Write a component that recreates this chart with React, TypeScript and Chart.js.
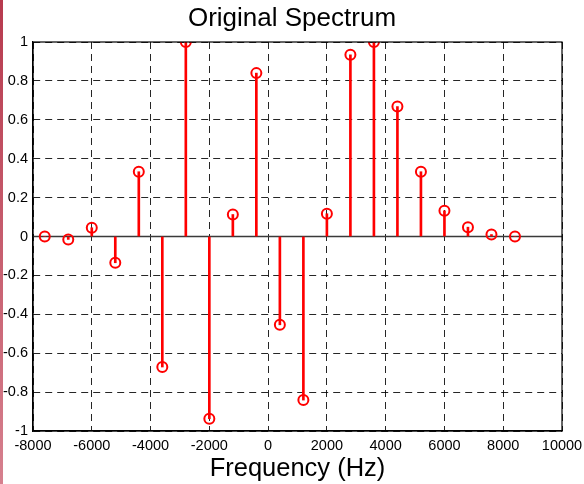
import React, { useEffect, useRef } from "react";
import { Chart, registerables } from "chart.js";

Chart.register(...registerables);

const frequencies = [-7600, -6800, -6000, -5200, -4400, -3600, -2800, -2000, -1200, -400, 400, 1200, 2000, 2800, 3600, 4400, 5200, 6000, 6800, 7600, 8400];
const magnitudes = [0.0, -0.015, 0.045, -0.135, 0.333, -0.671, 1.0, -0.937, 0.113, 0.84, -0.454, -0.841, 0.117, 0.934, 1.0, 0.668, 0.333, 0.132, 0.048, 0.01, 0.0];
const xTicks = [-8000, -6000, -4000, -2000, 0, 2000, 4000, 6000, 8000, 10000];
const yTicks = [-1, -0.8, -0.6, -0.4, -0.2, 0, 0.2, 0.4, 0.6, 0.8, 1];
const titleText = "Original Spectrum";
const xLabel = "Frequency (Hz)";

const FONT = "'Liberation Sans', Arial, Helvetica, sans-serif";

const boxPlugin = {
  id: "boxPlugin",
  afterDatasetsDraw(chart: any) {
    const { ctx, chartArea } = chart;
    ctx.save();
    ctx.strokeStyle = "#000";
    ctx.lineWidth = 1.2;
    ctx.strokeRect(chartArea.left, chartArea.top, chartArea.right - chartArea.left, chartArea.bottom - chartArea.top);
    ctx.restore();
  },
};

export default function App() {
  const ref = useRef<HTMLCanvasElement | null>(null);
  useEffect(() => {
    if (!ref.current) return;
    const chart = new Chart(ref.current, {
      type: "bar",
      data: {
        datasets: [
          {
            type: "line",
            data: [
              { x: xTicks[0], y: 0 },
              { x: xTicks[xTicks.length - 1], y: 0 },
            ],
            borderColor: "#3a3a3a",
            borderWidth: 1.5,
            pointRadius: 0,
            order: 3,
          } as any,
          {
            type: "bar",
            data: frequencies.map((f, i) => ({ x: f, y: magnitudes[i] })),
            backgroundColor: "#ff0000",
            borderWidth: 0,
            barThickness: 2,
            order: 2,
          } as any,
          {
            type: "line",
            data: frequencies.map((f, i) => ({ x: f, y: magnitudes[i] })),
            showLine: false,
            pointStyle: "circle",
            pointRadius: 5,
            pointBorderWidth: 2,
            pointBorderColor: "#ff0000",
            pointBackgroundColor: "rgba(0,0,0,0)",
            order: 1,
          } as any,
        ],
      },
      options: {
        responsive: false,
        animation: false,
        layout: { padding: 0 },
        plugins: {
          legend: { display: false },
          tooltip: { enabled: false },
          title: {
            display: true,
            text: titleText,
            color: "#000",
            font: { family: FONT, size: 26, weight: "normal" },
            padding: { top: 3.5, bottom: 7.3 },
          },
        },
        scales: {
          x: {
            type: "linear",
            min: -8000,
            max: 10000,
            offset: false,
            afterBuildTicks: (s: any) => {
              s.ticks = xTicks.map((v) => ({ value: v }));
            },
            afterFit: (s: any) => {
              s.height = 53;
              s.paddingLeft = 0;
              s.paddingRight = 0;
            },
            ticks: {
              color: "#000",
              font: { family: FONT, size: 14.5 },
              padding: 6,
              maxRotation: 0,
              autoSkip: false,
              callback: (v: any) => String(v),
            },
            grid: {
              color: "rgba(0,0,0,0.85)",
              lineWidth: 1,
              drawTicks: false,
              offset: false,
            },
            border: { display: true, color: "#000", width: 1.2, dash: [7, 5] },
            title: {
              display: true,
              text: xLabel,
              color: "#000",
              font: { family: FONT, size: 25.5 },
              padding: { top: 0, bottom: 0 },
            },
          },
          y: {
            type: "linear",
            min: -1,
            max: 1,
            afterBuildTicks: (s: any) => {
              s.ticks = yTicks.map((v) => ({ value: v }));
            },
            afterFit: (s: any) => {
              s.width = 33;
              s.paddingTop = 0;
              s.paddingBottom = 0;
            },
            ticks: {
              color: "#000",
              font: { family: FONT, size: 14.5 },
              padding: 5,
              autoSkip: false,
              callback: (v: any) => String(Math.round(v * 10) / 10),
            },
            grid: {
              color: "rgba(0,0,0,0.85)",
              lineWidth: 1,
              drawTicks: false,
            },
            border: { display: true, color: "#000", width: 1.2, dash: [7, 5] },
          },
          yRight: {
            type: "linear",
            position: "right",
            min: -1,
            max: 1,
            afterFit: (s: any) => {
              s.width = 22;
              s.paddingTop = 0;
              s.paddingBottom = 0;
            },
            ticks: { display: false },
            grid: { display: false, drawTicks: false },
            border: { display: false },
          },
        },
      },
      plugins: [boxPlugin],
    } as any);
    return () => chart.destroy();
  }, []);

  return (
    <div style={{ position: "fixed", left: 0, top: 0, width: 584, height: 484, background: "#fff" }}>
      <canvas ref={ref} width={584} height={484} style={{ display: "block" }} />
      <div
        style={{
          position: "absolute",
          left: 0,
          top: 0,
          width: 3,
          height: 484,
          background: "linear-gradient(to bottom, rgb(183,58,78), rgb(214,128,142))",
        }}
      />
    </div>
  );
}
